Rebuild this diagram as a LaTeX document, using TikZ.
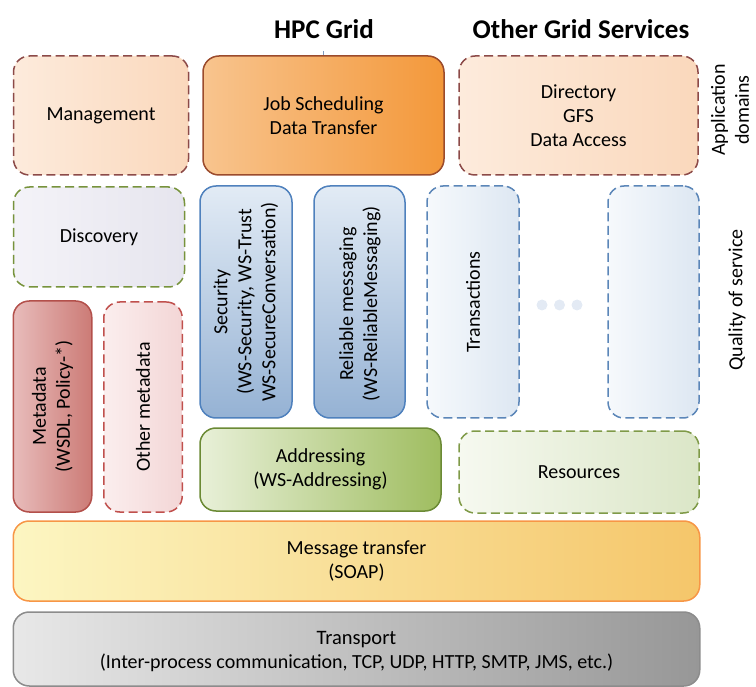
\documentclass[tikz,border=0pt]{standalone}
\usepackage{fontspec}
\setmainfont{Carlito}
\definecolor{mgmtL}{HTML}{FDEBDC}
\definecolor{mgmtR}{HTML}{FAD8BC}
\definecolor{mgmtB}{HTML}{8C4A48}
\definecolor{jobL}{HTML}{F8C48E}
\definecolor{jobR}{HTML}{F3983A}
\definecolor{jobB}{HTML}{9B4B2C}
\definecolor{discL}{HTML}{F4F3F8}
\definecolor{discR}{HTML}{E6E5EE}
\definecolor{grnB}{HTML}{77933C}
\definecolor{metaL}{HTML}{E8BCBB}
\definecolor{metaR}{HTML}{CC7B76}
\definecolor{metaB}{HTML}{B3504B}
\definecolor{ometaL}{HTML}{FBEEEE}
\definecolor{ometaR}{HTML}{F3D6D6}
\definecolor{ometaB}{HTML}{C0504D}
\definecolor{secT}{HTML}{E2EBF5}
\definecolor{secB}{HTML}{95B2D4}
\definecolor{bluB}{HTML}{4F81BD}
\definecolor{trL}{HTML}{F6F9FC}
\definecolor{trR}{HTML}{DDE7F2}
\definecolor{trB}{HTML}{5B86B8}
\definecolor{addrL}{HTML}{E8F0D8}
\definecolor{addrR}{HTML}{9FBD60}
\definecolor{addrB}{HTML}{6B8A35}
\definecolor{resL}{HTML}{F6F9F0}
\definecolor{resR}{HTML}{DBE6C7}
\definecolor{resB}{HTML}{7F9A48}
\definecolor{msgL}{HTML}{FCF6C2}
\definecolor{msgR}{HTML}{F5C66A}
\definecolor{msgB}{HTML}{F79646}
\definecolor{trnL}{HTML}{E8E8E8}
\definecolor{trnR}{HTML}{979797}
\definecolor{trnB}{HTML}{8C8C8C}
\definecolor{dotC}{HTML}{E3EAF4}
\definecolor{tickC}{HTML}{7F9BBF}
\tikzset{
  box/.style={draw, rounded corners=16pt, line width=1.5pt, inner sep=0pt, align=center,
    font=\fontsize{20}{24}\selectfont},
  dashbox/.style={box, dash pattern=on 9pt off 4.5pt},
  txt/.style={align=center, font=\fontsize{20}{24}\selectfont, inner sep=0pt},
  vtxt/.style={txt, rotate=90},
  ttl/.style={font=\fontsize{27}{32}\selectfont\bfseries, inner sep=0pt},
  dotn/.style={circle, fill=dotC, draw=none, minimum size=11pt, inner sep=0pt},
}
\begin{document}
\begin{tikzpicture}[x=1pt,y=-1pt]
\useasboundingbox (0,0) rectangle (756,687);

% titles
\node[ttl] (hpc) at (324,29) {HPC Grid};
\node[ttl] (ogs) at (581,29) {Other Grid Services};

% application domains row
\node[dashbox, draw=mgmtB, left color=mgmtL, right color=mgmtR,
      minimum width=175pt, minimum height=119pt] (mgmt) at (101,115.5) {Management};
\node[box, draw=jobB, left color=jobL, right color=jobR,
      minimum width=241pt, minimum height=119pt] (job) at (323.5,115.5) {Job Scheduling\\Data Transfer};
\node[dashbox, draw=mgmtB, left color=mgmtL, right color=mgmtR,
      minimum width=239pt, minimum height=119pt] (dir) at (578.5,115.5) {Directory\\GFS\\Data Access};
\coordinate (tick) at (323.5,51);
\draw[tickC, line width=1.5pt] (tick) -- (job.north);

% side labels
\node[vtxt] (appdom) at (730,110) {Application\\domains};
\node[vtxt] (qos) at (737,300) {Quality of service};

% discovery + metadata
\node[dashbox, draw=grnB, left color=discL, right color=discR,
      minimum width=171pt, minimum height=100pt] (disc) at (99,237) {Discovery};
\node[box, draw=metaB, left color=metaL, right color=metaR,
      minimum width=78.5pt, minimum height=211pt] (meta) at (52.5,406.5) {};
\node[vtxt] (metaT) at (meta.center) {Metadata\\(WSDL, Policy-*)};
\node[dashbox, draw=ometaB, left color=ometaL, right color=ometaR,
      minimum width=78.5pt, minimum height=210pt] (ometa) at (143,407) {};
\node[vtxt] (ometaT) at (ometa.center) {Other metadata};

% quality of service columns
\node[box, draw=bluB, top color=secT, bottom color=secB,
      minimum width=92pt, minimum height=232pt] (sec) at (246,302) {};
\node[vtxt] (secTx) at (sec.center) {Security\\(WS-Security, WS-Trust\\WS-SecureConversation)};
\node[box, draw=bluB, top color=secT, bottom color=secB,
      minimum width=91pt, minimum height=232pt] (rel) at (359.5,302) {};
\node[vtxt] (relTx) at (360,304) {Reliable messaging\\(WS-ReliableMessaging)};
\node[dashbox, draw=trB, left color=trL, right color=trR,
      minimum width=92pt, minimum height=232pt] (trans) at (473,302) {};
\node[vtxt] (transTx) at (trans.center) {Transactions};
\node[dashbox, draw=trB, left color=trL, right color=trR,
      minimum width=91pt, minimum height=232pt] (blank) at (653.5,302) {};
\node[dotn] (d1) at (542,305) {};
\node[dotn] (d2) at (559.5,305) {};
\node[dotn] (d3) at (577,305) {};

% addressing / resources
\node[box, draw=addrB, left color=addrL, right color=addrR,
      minimum width=241pt, minimum height=83pt] (addr) at (320.5,469.5) {Addressing\\(WS-Addressing)};
\node[dashbox, draw=resB, left color=resL, right color=resR,
      minimum width=240pt, minimum height=82pt] (res) at (579,472) {Resources};

% message transfer / transport
\node[box, draw=msgB, left color=msgL, right color=msgR,
      minimum width=686.5pt, minimum height=80pt] (msg) at (356.5,561) {Message transfer\\(SOAP)};
\node[box, draw=trnB, left color=trnL, right color=trnR,
      minimum width=686.5pt, minimum height=74pt] (trn) at (356.5,649) {};
\node[txt] (trnTx) at (356.5,652) {\fontsize{20.5}{24}\selectfont Transport\\(Inter-process communication, TCP, UDP, HTTP, SMTP, JMS, etc.)};
\end{tikzpicture}
\end{document}
